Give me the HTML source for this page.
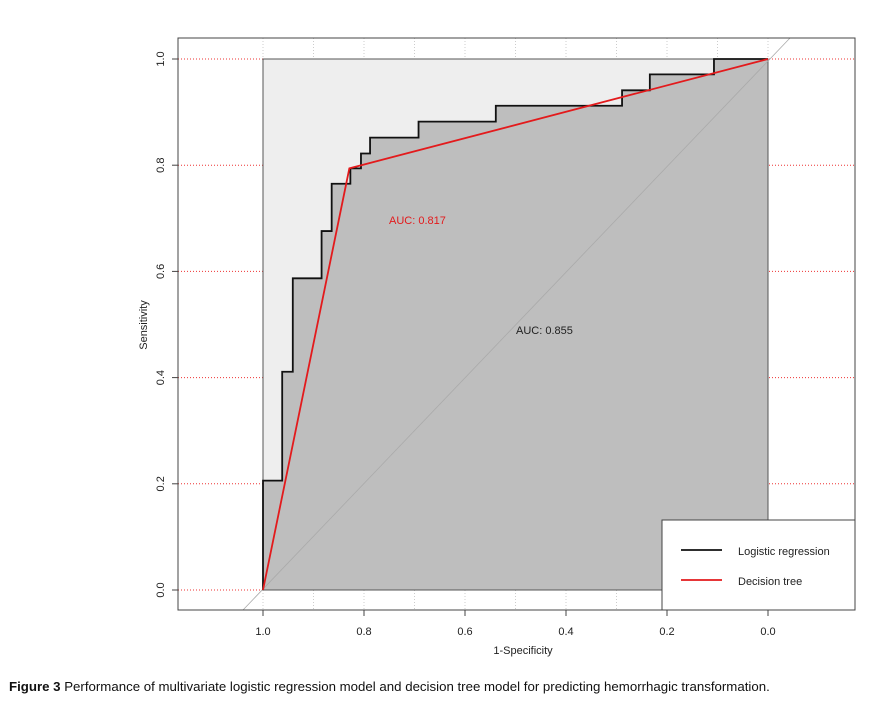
<!DOCTYPE html>
<html><head><meta charset="utf-8"><style>
body{margin:0;background:#fff;width:891px;height:704px;overflow:hidden;font-family:"Liberation Sans",sans-serif}
</style></head><body>
<svg id="c" width="891" height="704" xmlns="http://www.w3.org/2000/svg" style="position:absolute;left:0;top:0"></svg>
<div style="position:absolute;left:9px;top:680px;font-size:12.5px;color:#111;font-family:'Liberation Sans',sans-serif;transform:scaleX(1.06);transform-origin:left;white-space:nowrap"><b>Figure 3</b> Performance of multivariate logistic regression model and decision tree model for predicting hemorrhagic transformation.</div>
<script>
const lrSpec=[1,1,0.962,0.962,0.941,0.941,0.884,0.884,0.864,0.864,0.827,0.827,0.806,0.806,0.788,0.788,0.692,0.692,0.539,0.539,0.289,0.289,0.234,0.234,0.107,0.107,0];
const lrSens=[0,0.206,0.206,0.411,0.411,0.587,0.587,0.676,0.676,0.765,0.765,0.794,0.794,0.822,0.822,0.852,0.852,0.882,0.882,0.912,0.912,0.941,0.941,0.971,0.971,1,1];
const dtSpec=[1,0.829,0];
const dtSens=[0,0.794,1];
const xTicks=[1.0,0.8,0.6,0.4,0.2,0.0];
const yTicks=[0.0,0.2,0.4,0.6,0.8,1.0];
const xGrid=[1,0.9,0.8,0.7,0.6,0.5,0.4,0.3,0.2,0.1,0];
const X=v=>263+(1-v)*505, Y=v=>590-v*531;
const s=document.getElementById('c');const NS='http://www.w3.org/2000/svg';
function el(t,a,name,txt){const e=document.createElementNS(NS,t);for(const k in a)e.setAttribute(k,a[k]);


if(txt!==undefined)e.textContent=txt;s.appendChild(e);return e;}
xGrid.forEach(v=>{el('line',{x1:X(v),x2:X(v),y1:38,y2:610,stroke:'#ccc','stroke-dasharray':'1,2'},'x-grid-line');});
yTicks.forEach(v=>{el('line',{x1:178,x2:855,y1:Y(v),y2:Y(v),stroke:'#e33','stroke-dasharray':'1,2'},'y-grid-line');});
el('rect',{x:X(1),y:Y(1),width:X(0)-X(1),height:Y(0)-Y(1),fill:'#eeeeee',stroke:'#555','stroke-width':1},'roc-area-background');
let p=lrSpec.map((v,i)=>X(v)+','+Y(lrSens[i])).join(' ')+' '+X(0)+','+Y(0);
el('polygon',{points:p,fill:'#bebebe',stroke:'#555','stroke-width':1},'auc-fill');
el('line',{x1:243,y1:610,x2:790,y2:38,stroke:'#aaa','stroke-width':0.8},'diagonal-reference');
el('polyline',{points:lrSpec.map((v,i)=>X(v)+','+Y(lrSens[i])).join(' '),fill:'none',stroke:'#111','stroke-width':1.8},'logistic-regression-line');
el('polyline',{points:dtSpec.map((v,i)=>X(v)+','+Y(dtSens[i])).join(' '),fill:'none',stroke:'#e31a1c','stroke-width':1.8},'decision-tree-line');
el('text',{x:389,y:224,'font-size':11,fill:'#e31a1c'},'auc-decision-tree','AUC: 0.817');
el('text',{x:516,y:334,'font-size':11,fill:'#222'},'auc-logistic-regression','AUC: 0.855');
el('rect',{x:178,y:38,width:677,height:572,fill:'none',stroke:'#444'},'plot-frame');
xTicks.forEach(v=>{el('line',{x1:X(v),x2:X(v),y1:610,y2:616,stroke:'#444'},'x-tick');
el('text',{x:X(v),y:635,'font-size':11,'text-anchor':'middle',fill:'#222'},'x-tick-label',v.toFixed(1));});
yTicks.forEach(v=>{el('line',{x1:172,x2:178,y1:Y(v),y2:Y(v),stroke:'#444'},'y-tick');
el('text',{x:164,y:Y(v),'font-size':11,'text-anchor':'middle',fill:'#222',transform:`rotate(-90 164 ${Y(v)})`},'y-tick-label',v.toFixed(1));});
el('text',{x:523,y:654,'font-size':11,'text-anchor':'middle',fill:'#222'},'x-axis-title','1-Specificity');
el('text',{x:147,y:325,'font-size':11,'text-anchor':'middle',fill:'#222',transform:'rotate(-90 147 325)'},'y-axis-title','Sensitivity');
el('rect',{x:662,y:520,width:193,height:90,fill:'#fff',stroke:'#444'},'legend-box');
el('line',{x1:681,x2:722,y1:550,y2:550,stroke:'#111','stroke-width':1.8},'legend-logistic-swatch');
el('text',{x:738,y:555,'font-size':11,fill:'#222'},'legend-logistic-label','Logistic regression');
el('line',{x1:681,x2:722,y1:580,y2:580,stroke:'#e31a1c','stroke-width':1.8},'legend-tree-swatch');
el('text',{x:738,y:585,'font-size':11,fill:'#222'},'legend-tree-label','Decision tree');
</script>
</body></html>
